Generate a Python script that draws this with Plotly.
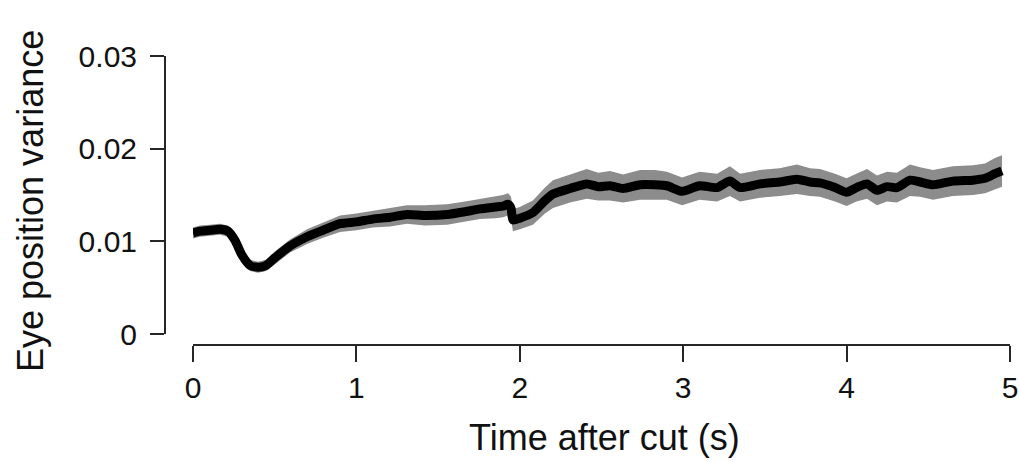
import plotly.graph_objects as go

# ---- data ----
time_s = [0.0, 0.043, 0.104, 0.165, 0.214, 0.257, 0.30, 0.349, 0.398, 0.447, 0.50,
          0.594, 0.698, 0.796, 0.90, 1.0, 1.10, 1.206, 1.31, 1.42, 1.555, 1.665,
          1.756, 1.85, 1.897, 1.928, 1.946, 1.958, 2.0, 2.08, 2.154, 2.203, 2.307,
          2.41, 2.48, 2.552, 2.632, 2.736, 2.827, 2.90, 2.993, 3.10, 3.207, 3.286,
          3.348, 3.47, 3.59, 3.696, 3.776, 3.837, 3.929, 4.0, 4.06, 4.125, 4.186,
          4.247, 4.308, 4.388, 4.45, 4.529, 4.65, 4.774, 4.847, 4.908, 4.951]

variance = [0.0109, 0.0111, 0.0112, 0.0113, 0.0111, 0.0101, 0.0085, 0.0074, 0.0072,
            0.0074, 0.0082, 0.0095, 0.0105, 0.0112, 0.0119, 0.0121, 0.0124, 0.0126,
            0.0129, 0.0128, 0.0129, 0.0132, 0.0135, 0.0137, 0.0138, 0.0140, 0.0136,
            0.0123, 0.0125, 0.0131, 0.0144, 0.0151, 0.0157, 0.0162, 0.0159, 0.0160,
            0.0157, 0.0161, 0.0161, 0.0160, 0.0154, 0.0160, 0.0158, 0.0165, 0.0158,
            0.0162, 0.0164, 0.0167, 0.0164, 0.0163, 0.0158, 0.0153, 0.0158, 0.0162,
            0.0155, 0.0159, 0.0158, 0.0166, 0.0164, 0.0161, 0.0165, 0.0166, 0.0168,
            0.0173, 0.0176]

half_band = [0.0006, 0.0006, 0.0006, 0.0006, 0.0006, 0.0006, 0.0006, 0.0006, 0.0006,
             0.0006, 0.0007, 0.0007, 0.0008, 0.0008, 0.0009, 0.0009, 0.0009, 0.0010,
             0.0010, 0.0011, 0.0011, 0.0011, 0.0011, 0.0012, 0.0012, 0.0012, 0.0012,
             0.0012, 0.0012, 0.0013, 0.0014, 0.0015, 0.0015, 0.0016, 0.0015, 0.0016,
             0.0015, 0.0016, 0.0016, 0.0015, 0.0015, 0.0015, 0.0015, 0.0016, 0.0015,
             0.0015, 0.0015, 0.0016, 0.0015, 0.0015, 0.0015, 0.0015, 0.0015, 0.0016,
             0.0016, 0.0016, 0.0016, 0.0017, 0.0016, 0.0016, 0.0016, 0.0016, 0.0016,
             0.0017, 0.0017]

x_ticks = [0, 1, 2, 3, 4, 5]
y_ticks = [0, 0.01, 0.02, 0.03]
y_tick_labels = ["0", "0.01", "0.02", "0.03"]
x_title = "Time after cut (s)"
y_title = "Eye position variance"

upper = [m + h for m, h in zip(variance, half_band)]
lower = [m - h for m, h in zip(variance, half_band)]

FONT = "Liberation Sans, Arial, Helvetica, sans-serif"
AXC = "#262626"
TXT = "#111111"

fig = go.Figure()
fig.add_trace(go.Scatter(x=time_s, y=upper, mode="lines", line=dict(width=0, color="#8c8c8c"),
                         showlegend=False, hoverinfo="skip"))
fig.add_trace(go.Scatter(x=time_s, y=lower, mode="lines", line=dict(width=0, color="#8c8c8c"),
                         fill="tonexty", fillcolor="#8c8c8c", showlegend=False, hoverinfo="skip"))
fig.add_trace(go.Scatter(x=time_s, y=variance, mode="lines",
                         line=dict(color="black", width=9, shape="spline", smoothing=0.6),
                         showlegend=False, hoverinfo="skip"))

# paper area (page px): x 150..1012, y 50..350
fig.update_layout(
    width=1019, height=462,
    margin=dict(l=150, r=7, t=50, b=112, autoexpand=False),
    paper_bgcolor="white", plot_bgcolor="white",
    font=dict(family=FONT, color=TXT),
    hovermode=False,
    xaxis=dict(
        domain=[(193 - 150) / 862, (1010 - 150) / 862],
        range=[0, 5], anchor="free", position=(350 - 345) / 300,
        tickvals=x_ticks, ticktext=[str(v) for v in x_ticks],
        showline=True, linecolor=AXC, linewidth=2,
        ticks="outside", ticklen=16, tickwidth=2, tickcolor=AXC,
        tickfont=dict(size=30, family=FONT, color=TXT),
        ticklabelstandoff=0, ticklabeloverflow="allow",
        showgrid=False, zeroline=False,
        automargin=False,
    ),
    yaxis=dict(
        domain=[(350 - 334) / 300, (350 - 56) / 300],
        range=[0, 0.03], anchor="free", position=(165 - 150) / 862,
        tickvals=y_ticks, ticktext=y_tick_labels,
        showline=True, linecolor=AXC, linewidth=2,
        ticks="outside", ticklen=14, tickwidth=2, tickcolor=AXC,
        tickfont=dict(size=30, family=FONT, color=TXT),
        ticklabelstandoff=7,
        showgrid=False, zeroline=False,
        automargin=False,
    ),
    annotations=[
        dict(text=x_title, xref="paper", yref="paper",
             x=(604 - 150) / 862, y=(350 - 437) / 300,
             xanchor="center", yanchor="middle", showarrow=False,
             font=dict(size=36, family=FONT, color=TXT)),
        dict(text=y_title, xref="paper", yref="paper",
             x=(30 - 150) / 862, y=(350 - 201) / 300, textangle=-90,
             xanchor="center", yanchor="middle", showarrow=False,
             font=dict(size=36, family=FONT, color=TXT)),
    ],
)

fig.write_html(
    "out.html",
    config={"displayModeBar": False, "staticPlot": True},
    post_script="document.body.style.margin='0';document.body.style.overflow='hidden';",
)
